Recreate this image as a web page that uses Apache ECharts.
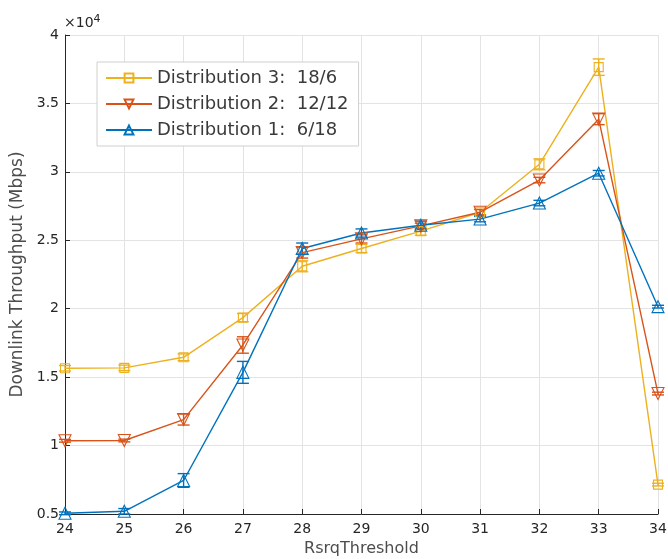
<!DOCTYPE html>
<html>
<head>
<meta charset="utf-8">
<script src="https://cdn.jsdelivr.net/npm/echarts@6/dist/echarts.min.js"></script>
<style>
  html, body { margin: 0; padding: 0; background: #fff; }
  #chart { width: 668px; height: 559px; }
</style>
</head>
<body>
<div id="chart"></div>
<script>
// RsrqThreshold values
var thresholds = [24, 25, 26, 27, 28, 29, 30, 31, 32, 33, 34];
var yTicks = [0.5, 1, 1.5, 2, 2.5, 3, 3.5, 4];

// throughput, in units of 1e4 Mbps
var dist3 = [1.565, 1.568, 1.645, 1.935, 2.31, 2.44, 2.567, 2.705, 3.055, 3.765, 0.715];
var dist2 = [1.035, 1.037, 1.19, 1.735, 2.41, 2.51, 2.605, 2.705, 2.94, 3.385, 1.38];
var dist1 = [0.505, 0.52, 0.745, 1.535, 2.44, 2.553, 2.61, 2.655, 2.772, 2.99, 2.015];

// half height of the error bars
var err3 = [0.02, 0.02, 0.025, 0.03, 0.04, 0.03, 0.03, 0.02, 0.04, 0.06, 0.01];
var err2 = [0.01, 0.01, 0.04, 0.06, 0.04, 0.03, 0.02, 0.02, 0.02, 0.04, 0.01];
var err1 = [0.01, 0.02, 0.05, 0.08, 0.04, 0.03, 0.03, 0.02, 0.02, 0.02, 0.01];

var names = ['Distribution 3:  18/6', 'Distribution 2:  12/12', 'Distribution 1:  6/18'];
var colors = ['#EDB120', '#D95319', '#0072BD'];

var chart = echarts.init(document.getElementById('chart'));

function pts(vals) {
  return thresholds.map(function (x, i) { return [x, vals[i]]; });
}
function bars(vals, errs) {
  return thresholds.map(function (x, i) { return [x, vals[i] - errs[i], vals[i] + errs[i]]; });
}

function errRender(color) {
  return function (params, api) {
    var x = api.value(0);
    var top = api.coord([x, api.value(2)]);
    var bot = api.coord([x, api.value(1)]);
    var w = 6;
    var st = { stroke: color, lineWidth: 1.4 };
    return {
      type: 'group',
      children: [
        { type: 'line', shape: { x1: top[0], y1: top[1], x2: bot[0], y2: bot[1] }, style: st },
        { type: 'line', shape: { x1: top[0] - w, y1: top[1], x2: top[0] + w, y2: top[1] }, style: st },
        { type: 'line', shape: { x1: bot[0] - w, y1: bot[1], x2: bot[0] + w, y2: bot[1] }, style: st }
      ]
    };
  };
}

function lineSeries(name, vals, color, symbol, rotate) {
  return {
    name: name,
    type: 'line',
    data: pts(vals),
    symbol: symbol,
    symbolSize: symbol == 'rect' ? 9 : 12,
    symbolRotate: rotate,
    showAllSymbol: true,
    clip: false,
    lineStyle: { color: color, width: 1.4 },
    itemStyle: { color: 'rgba(255,255,255,0)', borderColor: color, borderWidth: 1.1 },
    emphasis: { disabled: true },
    z: 3
  };
}

function errSeries(vals, errs, color) {
  return {
    type: 'custom',
    name: 'err',
    data: bars(vals, errs),
    renderItem: errRender(color),
    encode: { x: 0, y: [1, 2] },
    silent: true,
    z: 2
  };
}

var font = 'DejaVu Sans';

var option = {
  animation: false,
  textStyle: { fontFamily: font },
  grid: { left: 65, right: 10, top: 35, bottom: 45, outerBoundsMode: 'none', containLabel: false },
  legend: {
    data: names,
    orient: 'vertical',
    left: 97,
    top: 62,
    padding: [7, 10, 7, 8],
    itemGap: 8,
    itemWidth: 46,
    itemHeight: 11,
    backgroundColor: '#fff',
    borderColor: '#cfcfcf',
    borderWidth: 1,
    borderRadius: 0,
    textStyle: { fontFamily: font, fontSize: 18, color: '#3a3a3a' }
  },
  xAxis: {
    type: 'value',
    min: 24,
    max: 34,
    interval: 1,
    name: 'RsrqThreshold',
    nameLocation: 'middle',
    nameGap: 27,
    nameTextStyle: { fontFamily: font, fontSize: 16, color: '#4d4d4d' },
    axisLine: { onZero: false, lineStyle: { color: '#262626', width: 1 } },
    axisTick: { inside: true, length: 5, lineStyle: { color: '#262626' } },
    axisLabel: { fontFamily: font, fontSize: 14, color: '#262626', margin: 8 },
    splitLine: { show: true, lineStyle: { color: '#e3e3e3', width: 1 } }
  },
  yAxis: {
    type: 'value',
    min: 0.5,
    max: 4,
    interval: 0.5,
    name: 'Downlink Throughput (Mbps)',
    nameLocation: 'middle',
    nameGap: 34,
    nameTextStyle: { fontFamily: font, fontSize: 17, color: '#4d4d4d' },
    axisLine: { show: true, onZero: false, lineStyle: { color: '#262626', width: 1 } },
    axisTick: { show: true, inside: true, length: 5, lineStyle: { color: '#262626' } },
    axisLabel: {
      fontFamily: font, fontSize: 14, color: '#262626', margin: 6,
      formatter: function (v) { return yTicks.indexOf(v) >= 0 ? String(v) : ''; }
    },
    splitLine: { show: true, lineStyle: { color: '#e3e3e3', width: 1 } }
  },
  graphic: [{
    type: 'text',
    left: 64,
    top: 14,
    style: {
      text: '×10{s|4}',
      fontFamily: font,
      fontSize: 14,
      fill: '#262626',
      rich: { s: { fontSize: 11, verticalAlign: 'top', padding: [0, 0, 8, 0], fontFamily: font, fill: '#262626' } }
    }
  }],
  series: [
    errSeries(dist3, err3, colors[0]),
    errSeries(dist2, err2, colors[1]),
    errSeries(dist1, err1, colors[2]),
    lineSeries(names[0], dist3, colors[0], 'rect', 0),
    lineSeries(names[1], dist2, colors[1], 'triangle', 180),
    lineSeries(names[2], dist1, colors[2], 'triangle', 0)
  ]
};

chart.setOption(option);
</script>
</body>
</html>
